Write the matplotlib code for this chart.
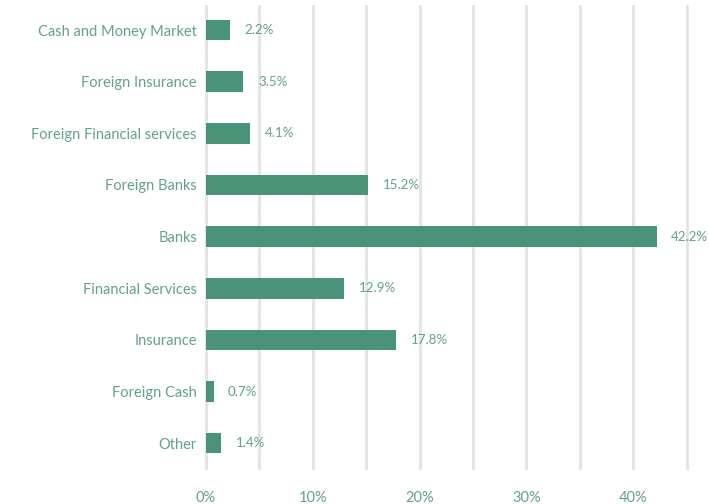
import matplotlib
matplotlib.use("Agg")
import matplotlib.pyplot as plt

categories = ["Cash and Money Market", "Foreign Insurance", "Foreign Financial services",
              "Foreign Banks", "Banks", "Financial Services", "Insurance", "Foreign Cash", "Other"]
values = [2.2, 3.5, 4.1, 15.2, 42.2, 12.9, 17.8, 0.7, 1.4]
xticks = [0, 10, 20, 30, 40]
xtick_labels = ["0%", "10%", "20%", "30%", "40%"]

bar_color = "#4a9278"
text_color = "#63a18a"
grid_color = "#e3e3e3"

plt.rcParams['font.family'] = ['Lato', 'DejaVu Sans']

fig = plt.figure(figsize=(7.09, 5.04), dpi=100)
ax = fig.add_axes([0.2876, 0.0675, 0.711, 0.9225])

pos = list(range(len(categories)))
ax.barh(pos, values, height=0.4, color=bar_color, zorder=3)
for p, v in zip(pos, values):
    ax.annotate(f"{v}%", (v, p), xytext=(10.5, 0), textcoords="offset points",
                va="center", ha="left", color=text_color, fontsize=9.6,
                annotation_clip=False)

ax.set_xlim(-0.2, 47)
ax.set_ylim(8.52, -0.485)
for g in range(0, 50, 5):
    ax.axvline(g, color=grid_color, lw=2, zorder=1)

ax.set_yticks(pos)
ax.set_yticklabels(categories)
ax.set_xticks(xticks)
ax.set_xticklabels(xtick_labels)
ax.tick_params(axis='both', length=0, labelcolor=text_color, labelsize=10.5)
ax.tick_params(axis='y', pad=5)
ax.tick_params(axis='x', pad=15)
for s in ax.spines.values():
    s.set_visible(False)

fig.savefig("out.png", dpi=100)
